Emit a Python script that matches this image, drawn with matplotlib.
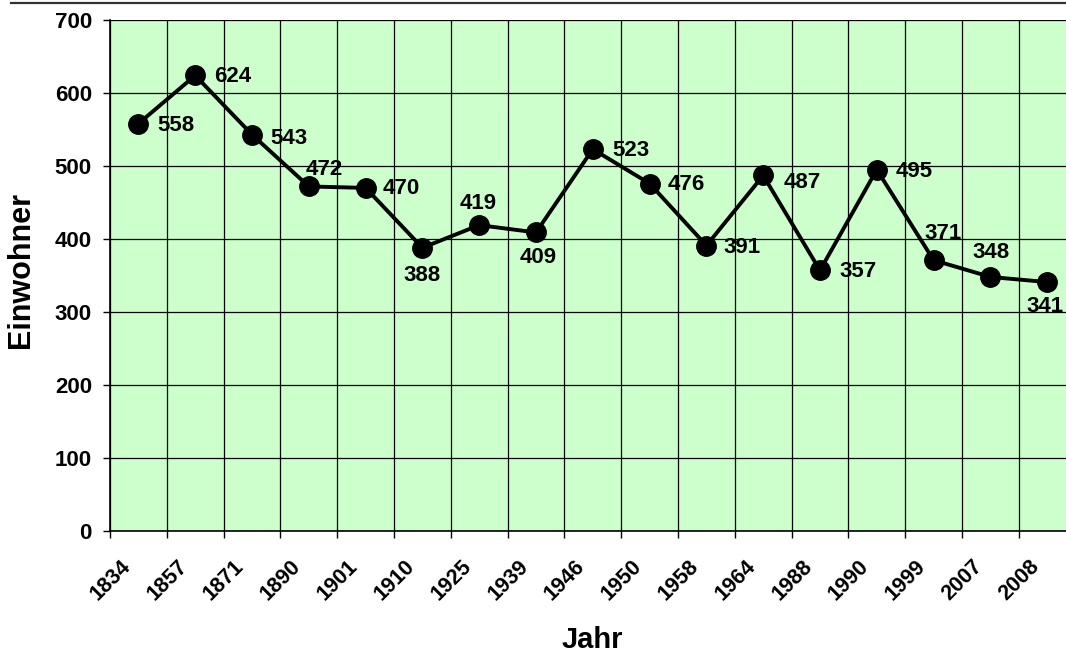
import matplotlib
matplotlib.use("Agg")
import matplotlib.pyplot as plt
import matplotlib.transforms as mtransforms
from matplotlib.lines import Line2D
import numpy as np

plt.rcParams['font.family'] = ['Liberation Sans', 'DejaVu Sans']
plt.rcParams['font.weight'] = 'bold'

# data
years = ['1834', '1857', '1871', '1890', '1901', '1910', '1925', '1939', '1946',
         '1950', '1958', '1964', '1988', '1990', '1999', '2007', '2008']
einwohner = [558, 624, 543, 472, 470, 388, 419, 409, 523,
             476, 391, 487, 357, 495, 371, 348, 341]

# label placement (pixels, dx right / dy down from the point)
label_off = [(37, 2), (37, 1), (37, 4), (15, -17), (36, 1), (0, 28), (-1, -22),
             (2, 25), (38, 1), (37, 1), (36, 2), (39, 7), (38, 1), (37, 2),
             (9, -27), (1, -24), (-2, 24)]

W, H = 1066, 653
fig = plt.figure(figsize=(W / 100, H / 100), dpi=100)
ax = fig.add_axes([110 / W, 122 / H, 965.6 / W, 511 / H])
ax.set_facecolor('#CCFFCC')

x = np.arange(len(years))
ax.plot(x, einwohner, color='black', lw=2.8, marker='o', markersize=14,
        markerfacecolor='black', markeredgecolor='black', zorder=3)

for xi, v, (dx, dy) in zip(x, einwohner, label_off):
    ax.annotate(str(v), (xi, v), xytext=(dx * 0.72, -dy * 0.72),
                textcoords='offset points', ha='center', va='center',
                fontsize=16, fontweight='bold', zorder=4)

ax.set_xlim(-0.5, len(years) - 0.5)
ax.set_ylim(0, 700)
ax.set_yticks(np.arange(0, 701, 100))

ax.set_xticks(x)
ax.set_xticks(np.arange(-0.5, len(years), 1), minor=True)
ax.tick_params(axis='x', which='major', length=0, pad=23, labelsize=15.5)
ax.tick_params(axis='x', which='minor', length=5, width=1, direction='out')
ax.tick_params(axis='y', length=5, width=1, pad=8, labelsize=16)
ax.set_xticklabels(years, rotation=45, ha='right', va='center',
                   rotation_mode='anchor', fontsize=15.5, fontweight='bold')
offset = mtransforms.ScaledTranslation(-11 / 100, 0, fig.dpi_scale_trans)
for lab in ax.get_xticklabels():
    lab.set_transform(lab.get_transform() + offset)

ax.grid(True, axis='y', which='major', color='black', lw=0.9)
ax.grid(True, axis='x', which='minor', color='black', lw=0.9)
ax.grid(False, axis='x', which='major')
ax.set_axisbelow(True)

for s in ['top', 'right']:
    ax.spines[s].set_visible(False)
for s in ['left', 'bottom']:
    ax.spines[s].set_color('black')
    ax.spines[s].set_linewidth(1.2)

fig.text(21 / W, 1 - 270 / H, 'Einwohner', rotation=90, ha='center',
         va='center', fontsize=22, fontweight='bold')
fig.text(592 / W, 1 - 640 / H, 'Jahr', ha='center', va='center',
         fontsize=21, fontweight='bold')

fig.add_artist(Line2D([11 / W, 1], [1 - 3 / H, 1 - 3 / H], color='#333333',
                      lw=1.6, transform=fig.transFigure))

fig.savefig('out.png', dpi=100)
